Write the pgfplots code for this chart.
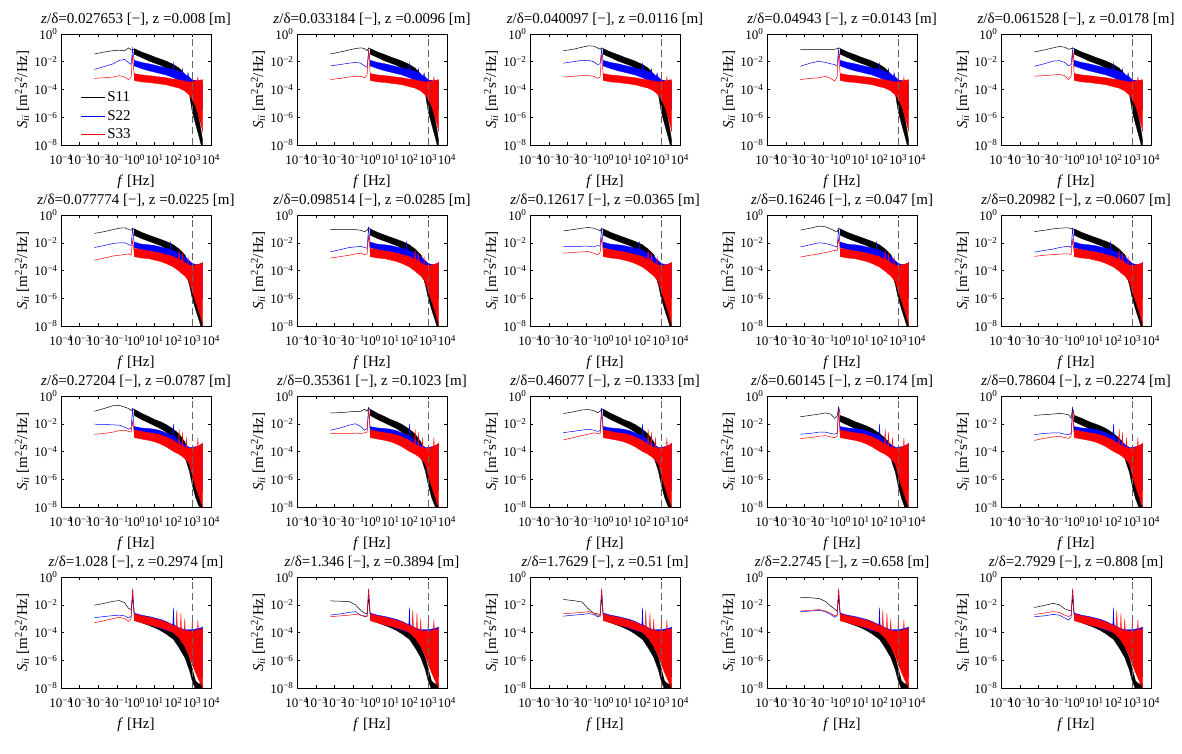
\documentclass[border=0pt]{standalone}
\usepackage{fontspec}
\setmainfont{Liberation Serif}
\usepackage{pgfplots}
\usepackage{pgfplotstable}
\pgfplotsset{compat=1.18}

\newcommand{\tl}[1]{10\textsuperscript{#1}}
\pgfplotsset{legend image code/.code={\draw[#1,line width=0.6pt] (0pt,0pt) -- (24pt,0pt);}}

% ---------- noise bands (upper envelope forward, lower envelope back) ----------
% Row 1
\pgfplotstableread[row sep=\\]{f S\\
0.8 8.9e-2\\ 2 5e-2\\ 5 3.2e-2\\ 10 2.2e-2\\ 20 1.58e-2\\ 40 1.12e-2\\ 100 6.3e-3\\ 200 3.5e-3\\ 400 1.26e-3\\ 700 4e-4\\ 1000 1e-4\\ 1500 1.26e-5\\ 2200 1e-6\\ 3000 1e-7\\ 3600 2e-8\\
3600 8e-9\\ 3000 1e-8\\ 2200 5e-8\\ 1500 3.2e-7\\ 1000 2.5e-6\\ 700 5e-5\\ 400 2e-4\\ 200 1e-3\\ 100 2e-3\\ 40 3.5e-3\\ 20 5.6e-3\\ 10 7.9e-3\\ 5 1.12e-2\\ 2 2e-2\\ 0.8 3.5e-2\\
}\bkA
\pgfplotstableread[row sep=\\]{f S\\
0.8 1.26e-2\\ 2 8.9e-3\\ 5 7.1e-3\\ 10 5.6e-3\\ 20 4.5e-3\\ 40 3.5e-3\\ 92 2.8e-3\\ 100 8e-3\\ 108 2.7e-3\\ 200 2e-3\\ 280 1.6e-3\\ 300 3.2e-3\\ 320 1.5e-3\\ 400 1.26e-3\\ 550 9e-4\\ 600 1.6e-3\\ 650 8.5e-4\\ 700 7.9e-4\\ 1000 5e-4\\ 1500 4.5e-4\\ 2200 4e-4\\ 3000 4e-4\\ 3600 3.5e-4\\
3600 4e-6\\ 3000 6.3e-6\\ 2200 1.26e-5\\ 1500 2.5e-5\\ 1000 5e-5\\ 700 7.9e-5\\ 400 1.58e-4\\ 200 4.5e-4\\ 100 7.1e-4\\ 40 1.12e-3\\ 20 1.41e-3\\ 10 1.78e-3\\ 5 2.2e-3\\ 2 3.2e-3\\ 0.8 5e-3\\
}\buA
\pgfplotstableread[row sep=\\]{f S\\
0.8 1.41e-3\\ 2 1.12e-3\\ 5 1e-3\\ 10 8.9e-4\\ 20 7.9e-4\\ 40 7.1e-4\\ 100 5.6e-4\\ 200 5e-4\\ 400 4e-4\\ 700 3.5e-4\\ 950 3.5e-4\\ 1000 6e-4\\ 1050 3.5e-4\\ 1500 4e-4\\ 1900 4e-4\\ 2000 8e-4\\ 2100 4.2e-4\\ 2200 4.5e-4\\ 3000 5e-4\\ 3600 5e-4\\
3600 1e-7\\ 3000 2.5e-7\\ 2200 1.26e-6\\ 1500 6.3e-6\\ 1000 2e-5\\ 700 4e-5\\ 400 7.9e-5\\ 200 1.26e-4\\ 100 1.58e-4\\ 40 2.2e-4\\ 20 2.5e-4\\ 10 2.8e-4\\ 5 3.2e-4\\ 2 3.5e-4\\ 0.8 4.5e-4\\
}\rdA
% Row 2
\pgfplotstableread[row sep=\\]{f S\\
0.8 1e-1\\ 2 5.6e-2\\ 5 3.5e-2\\ 10 2.5e-2\\ 20 1.78e-2\\ 40 1.26e-2\\ 100 7.1e-3\\ 200 3.5e-3\\ 400 1.41e-3\\ 700 2.5e-4\\ 1000 5e-5\\ 1500 6.3e-6\\ 2200 5e-7\\ 3000 5e-8\\ 3600 1.26e-8\\
3600 8e-9\\ 3000 8e-9\\ 2200 3.2e-8\\ 1500 1.58e-7\\ 1000 1e-6\\ 700 1e-5\\ 400 1e-4\\ 200 8.9e-4\\ 100 2e-3\\ 40 4e-3\\ 20 6.3e-3\\ 10 8.9e-3\\ 5 1.26e-2\\ 2 2e-2\\ 0.8 3.5e-2\\
}\bkB
\pgfplotstableread[row sep=\\]{f S\\
0.8 1.12e-2\\ 2 7.9e-3\\ 5 7.1e-3\\ 10 6.3e-3\\ 20 5e-3\\ 40 4e-3\\ 65 3.4e-3\\ 70 1.26e-2\\ 75 3.3e-3\\ 100 2.8e-3\\ 200 1.78e-3\\ 400 1e-3\\ 700 5e-4\\ 1000 3.2e-4\\ 1500 2.8e-4\\ 2200 2.8e-4\\ 3000 3.2e-4\\ 3600 3.5e-4\\
3600 1e-6\\ 3000 1.58e-6\\ 2200 3.2e-6\\ 1500 6.3e-6\\ 1000 1.58e-5\\ 700 4e-5\\ 400 1.26e-4\\ 200 3.5e-4\\ 100 7.1e-4\\ 40 1.26e-3\\ 20 1.78e-3\\ 10 2.2e-3\\ 5 2.5e-3\\ 2 3.2e-3\\ 0.8 4.5e-3\\
}\buB
\pgfplotstableread[row sep=\\]{f S\\
0.8 4e-3\\ 2 3.2e-3\\ 5 2.5e-3\\ 10 2.2e-3\\ 20 1.78e-3\\ 40 1.41e-3\\ 100 1e-3\\ 185 6.5e-4\\ 200 3.2e-3\\ 215 6.3e-4\\ 280 5e-4\\ 300 2e-3\\ 320 4.8e-4\\ 400 3.5e-4\\ 570 2.7e-4\\ 600 1e-3\\ 630 2.6e-4\\ 700 2.5e-4\\ 1000 2.2e-4\\ 1500 2.5e-4\\ 2200 2.8e-4\\ 3000 3.2e-4\\ 3600 4e-4\\
3600 1.26e-8\\ 3000 3.2e-8\\ 2200 1.26e-7\\ 1500 6.3e-7\\ 1000 3.2e-6\\ 700 1.58e-5\\ 400 4e-5\\ 200 8.9e-5\\ 100 1.78e-4\\ 40 3.2e-4\\ 20 4.5e-4\\ 10 5.6e-4\\ 5 7.1e-4\\ 2 7.9e-4\\ 0.8 1e-3\\
}\rdB
% Row 3
\pgfplotstableread[row sep=\\]{f S\\
0.8 1.12e-1\\ 2 5.6e-2\\ 5 3.2e-2\\ 10 2e-2\\ 20 1.41e-2\\ 40 8.9e-3\\ 100 4e-3\\ 200 1.78e-3\\ 400 5e-4\\ 700 6.3e-5\\ 1000 1e-5\\ 1500 1e-6\\ 2200 1e-7\\ 3000 2e-8\\ 3600 1e-8\\
3600 8e-9\\ 3000 8e-9\\ 2200 1.26e-8\\ 1500 5e-8\\ 1000 4e-7\\ 700 4e-6\\ 400 4e-5\\ 200 3.2e-4\\ 100 1e-3\\ 40 2.5e-3\\ 20 4.5e-3\\ 10 7.1e-3\\ 5 1.12e-2\\ 2 2e-2\\ 0.8 4e-2\\
}\bkC
\pgfplotstableread[row sep=\\]{f S\\
0.8 4e-2\\ 2 2.5e-2\\ 5 1.41e-2\\ 10 1e-2\\ 20 7.1e-3\\ 40 4.5e-3\\ 100 2e-3\\ 200 8.9e-4\\ 400 3.2e-4\\ 700 5e-5\\ 1000 7.9e-6\\ 1500 7.9e-7\\ 2200 7.9e-8\\ 3000 1.58e-8\\ 3600 1e-8\\
3600 8e-9\\ 3000 8e-9\\ 2200 1e-8\\ 1500 4e-8\\ 1000 3.2e-7\\ 700 3.2e-6\\ 400 3.2e-5\\ 200 1.41e-4\\ 100 4e-4\\ 40 1e-3\\ 20 1.78e-3\\ 10 2.8e-3\\ 5 4.5e-3\\ 2 7.9e-3\\ 0.8 1.41e-2\\
}\bkD
\pgfplotstableread[row sep=\\]{f S\\
0.8 6.3e-3\\ 2 5e-3\\ 5 4.5e-3\\ 10 4e-3\\ 20 3.2e-3\\ 40 2.2e-3\\ 92 1.3e-3\\ 100 1e-2\\ 108 1.25e-3\\ 200 6.3e-4\\ 400 3.2e-4\\ 700 2e-4\\ 1000 2e-4\\ 1500 2.2e-4\\ 2200 2.5e-4\\ 3000 3.2e-4\\ 3600 4e-4\\
3600 1.58e-7\\ 3000 2.5e-7\\ 2200 6.3e-7\\ 1500 1.58e-6\\ 1000 4e-6\\ 700 1.26e-5\\ 400 3.2e-5\\ 200 1e-4\\ 100 2.5e-4\\ 40 6.3e-4\\ 20 1e-3\\ 10 1.26e-3\\ 5 1.58e-3\\ 2 2e-3\\ 0.8 2.5e-3\\
}\buC
\pgfplotstableread[row sep=\\]{f S\\
0.8 3.5e-3\\ 2 2.8e-3\\ 5 2.2e-3\\ 10 2e-3\\ 20 1.58e-3\\ 40 1.12e-3\\ 100 6.3e-4\\ 185 3.4e-4\\ 200 4e-3\\ 215 3.3e-4\\ 280 2.6e-4\\ 300 2.5e-3\\ 320 2.5e-4\\ 400 2e-4\\ 470 1.9e-4\\ 500 1e-3\\ 530 1.85e-4\\ 700 1.78e-4\\ 1000 1.78e-4\\ 1500 2e-4\\ 1900 2.3e-4\\ 2000 1e-3\\ 2100 2.4e-4\\ 2200 2.5e-4\\ 3000 3.2e-4\\ 3600 4e-4\\
3600 1e-8\\ 3000 2e-8\\ 2200 6.3e-8\\ 1500 3.2e-7\\ 1000 2e-6\\ 700 1.26e-5\\ 400 3.2e-5\\ 200 6.3e-5\\ 100 1e-4\\ 40 2.2e-4\\ 20 3.5e-4\\ 10 5e-4\\ 5 6.3e-4\\ 2 7.9e-4\\ 0.8 1e-3\\
}\rdC
% Row 4
\pgfplotstableread[row sep=\\]{f S\\
0.8 2e-3\\ 2 1.41e-3\\ 5 1e-3\\ 10 7.9e-4\\ 20 5.6e-4\\ 40 3.5e-4\\ 100 1.58e-4\\ 200 5e-5\\ 400 1e-5\\ 700 1.58e-6\\ 1000 2.5e-7\\ 1500 3.2e-8\\ 2200 2e-8\\ 3000 2e-8\\ 3600 2e-8\\
3600 8e-9\\ 3000 8e-9\\ 2200 8e-9\\ 1500 8e-9\\ 1000 3.2e-8\\ 700 2e-7\\ 400 1.58e-6\\ 200 7.9e-6\\ 100 3.2e-5\\ 40 7.9e-5\\ 20 1.41e-4\\ 10 2.2e-4\\ 5 3.2e-4\\ 2 5e-4\\ 0.8 7.9e-4\\
}\bkE
\pgfplotstableread[row sep=\\]{f S\\
0.8 2.5e-3\\ 2 1.78e-3\\ 5 1.41e-3\\ 10 1.12e-3\\ 20 8.9e-4\\ 40 6.3e-4\\ 92 3.6e-4\\ 100 6.3e-3\\ 108 3.5e-4\\ 200 2.2e-4\\ 400 1.58e-4\\ 700 1.58e-4\\ 1000 1.58e-4\\ 1500 1.78e-4\\ 2200 2e-4\\ 3000 2.2e-4\\ 3600 2.5e-4\\
3600 6.3e-8\\ 3000 1e-7\\ 2200 2.5e-7\\ 1500 6.3e-7\\ 1000 1.58e-6\\ 700 4e-6\\ 400 1.26e-5\\ 200 4e-5\\ 100 1e-4\\ 40 1.41e-4\\ 20 2e-4\\ 10 2.8e-4\\ 5 4e-4\\ 2 5.6e-4\\ 0.8 7.9e-4\\
}\buE
\pgfplotstableread[row sep=\\]{f S\\
0.8 2.2e-3\\ 2 1.58e-3\\ 5 1.26e-3\\ 10 1e-3\\ 20 7.9e-4\\ 40 5.6e-4\\ 100 3.2e-4\\ 140 2.6e-4\\ 150 4e-3\\ 160 2.5e-4\\ 200 2e-4\\ 235 1.7e-4\\ 250 2.5e-3\\ 265 1.65e-4\\ 380 1.45e-4\\ 400 1e-3\\ 420 1.42e-4\\ 700 1.26e-4\\ 950 1.26e-4\\ 1000 1e-3\\ 1050 1.26e-4\\ 1500 1.41e-4\\ 1900 1.5e-4\\ 2000 8e-4\\ 2100 1.55e-4\\ 2200 1.58e-4\\ 3000 1.78e-4\\ 3600 2e-4\\
3600 1e-8\\ 3000 1.58e-8\\ 2200 4e-8\\ 1500 1.26e-7\\ 1000 5e-7\\ 700 2e-6\\ 400 1e-5\\ 200 4e-5\\ 100 1e-4\\ 40 1.58e-4\\ 20 2.2e-4\\ 10 2.8e-4\\ 5 3.5e-4\\ 2 5e-4\\ 0.8 7.1e-4\\
}\rdE

\def\bandsA{\def\nameBk{bkA}\def\nameBu{buA}\def\nameRd{rdA}}
\def\bandsB{\def\nameBk{bkB}\def\nameBu{buB}\def\nameRd{rdB}}
\def\bandsC{\def\nameBk{bkC}\def\nameBu{buC}\def\nameRd{rdC}}
\def\bandsD{\def\nameBk{bkD}\def\nameBu{buC}\def\nameRd{rdC}}
\def\bandsE{\def\nameBk{bkE}\def\nameBu{buE}\def\nameRd{rdE}}

\newcommand{\bandplot}[2]{\expandafter\bandplotX\csname #2\endcsname{#1}}
\newcommand{\bandplotX}[2]{\addplot[#2] table {#1};}

% #1 x, #2 y, #3 title, #4 band set, #5 low-frequency rows (f S11 S22 S33), #6 unused, #7 extra axis options, #8 extra content
\newcommand{\panel}[8]{%
  \csname bands#4\endcsname
  \pgfplotstableread[row sep=\\]{f b u r\\ #5}\lowtbl
  \begin{axis}[xmode=log, ymode=log, xmin=1e-4, xmax=1e4, ymin=1e-8, ymax=1,
    scale only axis, width=150pt, height=111pt, anchor=south west, at={(#1pt,#2pt)},
    xtick={1e-4,1e-3,1e-2,1e-1,1,1e1,1e2,1e3,1e4},
    xticklabels={\tl{−4},\tl{−3},\tl{−2},\tl{−1},\tl{0},\tl{1},\tl{2},\tl{3},\tl{4}},
    ytick={1e-8,1e-6,1e-4,1e-2,1},
    yticklabels={\tl{−8},\tl{−6},\tl{−4},\tl{−2},\tl{0}},
    xminorticks=false, yminorticks=false,
    tick align=inside, major tick length=3pt,
    tick style={black, line width=0.5pt},
    axis line style={line width=0.8pt},
    tick label style={font=\fontsize{13}{13}\selectfont},
    xticklabel style={yshift=-6pt},
    title style={at={(axis description cs:0.5,1)}, anchor=center, yshift=9pt, font=\fontsize{15}{16}\selectfont},
    title={#3},
    xlabel={\textit{f} [Hz]},
    ylabel={\textit{S}\textsubscript{\textit{ii}} [m\textsuperscript{2}s\textsuperscript{2}/Hz]},
    label style={font=\fontsize{15}{15}\selectfont},
    xlabel style={at={(axis description cs:0.5,-0.33)}, anchor=center},
    ylabel style={at={(axis description cs:-0.26,0.5)}, anchor=center},
    clip=true, #7]
    \addplot[black, line width=0.5pt, forget plot] table[x=f,y=b] {\lowtbl};
    \bandplot{black, fill=black, line width=0.3pt, forget plot}{\nameBk}
    \addplot[blue, line width=0.5pt, forget plot] table[x=f,y=u] {\lowtbl};
    \bandplot{blue, fill=blue, line width=0.3pt, forget plot}{\nameBu}
    \addplot[red, line width=0.5pt, forget plot] table[x=f,y=r] {\lowtbl};
    \bandplot{red, fill=red, line width=0.3pt, forget plot}{\nameRd}
    \addplot[black!60, line width=0.8pt, dash pattern=on 7pt off 4pt, forget plot] coordinates {(970,1e-8) (970,1)};
    #8
  \end{axis}}

\begin{document}
\begin{tikzpicture}
\useasboundingbox (0pt,0pt) rectangle (1182pt,753pt);

% ---------------- Row 1 ----------------
\panel{61}{608}{\textit{z}/δ=0.027653 [−], z =0.008 [m]}{A}{%
0.006 3.6e-2 2.8e-3 6.3e-4\\ 0.02 5e-2 4.5e-3 7.1e-4\\ 0.06 6.3e-2 7.1e-3 7.9e-4\\ 0.13 6.8e-2 1.26e-2 1e-3\\ 0.25 6.3e-2 1.45e-2 7.9e-4\\ 0.4 1e-1 8.9e-3 5.2e-4\\ 0.55 7.1e-2 6.3e-3 7.9e-4\\ 0.66 7.9e-2 8.9e-2 3.2e-2\\ 0.8 7.1e-2 1.26e-2 1e-3\\}{}%
{legend style={at={(axis description cs:0.13,0.5)}, anchor=north west, draw=none, fill=none, font=\fontsize{15}{15}\selectfont, inner sep=0pt, row sep=3pt}, legend cell align=left}%
{\addlegendimage{black}\addlegendentry{S11}\addlegendimage{blue}\addlegendentry{S22}\addlegendimage{red}\addlegendentry{S33}}

\panel{297}{608}{\textit{z}/δ=0.033184 [−], z =0.0096 [m]}{A}{%
0.006 3.6e-2 5e-3 5.2e-4\\ 0.02 5e-2 6.3e-3 6.3e-4\\ 0.06 7.1e-2 7.9e-3 7.9e-4\\ 0.13 8.9e-2 8.9e-3 8.9e-4\\ 0.25 1e-1 7.9e-3 8.9e-4\\ 0.4 8.9e-2 5e-3 7.1e-4\\ 0.55 6.3e-2 4e-3 1.12e-3\\ 0.66 1e-1 6.3e-2 7.1e-2\\ 0.8 7.9e-2 1e-2 1.26e-3\\}{}{}{}

\panel{530}{608}{\textit{z}/δ=0.040097 [−], z =0.0116 [m]}{A}{%
0.006 6.3e-2 7.9e-3 7.9e-4\\ 0.02 7.9e-2 1e-2 8.9e-4\\ 0.06 1.12e-1 1.26e-2 1e-3\\ 0.13 1.41e-1 1.26e-2 1e-3\\ 0.25 1.32e-1 1e-2 8.9e-4\\ 0.4 1e-1 6.3e-3 6.3e-4\\ 0.55 7.9e-2 7.1e-3 7.9e-4\\ 0.66 1e-1 7.9e-2 4e-2\\ 0.8 7.9e-2 1.12e-2 1.12e-3\\}{}{}{}

\panel{767}{608}{\textit{z}/δ=0.04943 [−], z =0.0143 [m]}{A}{%
0.006 7.4e-2 4.7e-3 5.2e-4\\ 0.02 7.4e-2 7.9e-3 6.3e-4\\ 0.06 7.6e-2 1.1e-2 7.1e-4\\ 0.13 7.4e-2 8.9e-3 8.9e-4\\ 0.25 7.9e-2 7.1e-3 6.3e-4\\ 0.4 7.9e-2 6.3e-3 4e-4\\ 0.55 8.9e-2 5e-3 7.9e-4\\ 0.66 1e-1 7.9e-2 5e-2\\ 0.8 8.9e-2 1e-2 1e-3\\}{}{}{}

\panel{1001}{608}{\textit{z}/δ=0.061528 [−], z =0.0178 [m]}{A}{%
0.006 5e-2 4.7e-3 9.1e-4\\ 0.02 7.1e-2 7.1e-3 1e-3\\ 0.06 1e-1 1.12e-2 1.12e-3\\ 0.13 1.26e-1 1.2e-2 1.2e-3\\ 0.25 1.12e-1 8.9e-3 1e-3\\ 0.4 7.9e-2 5.2e-3 5.2e-4\\ 0.55 8.9e-2 6.3e-3 8.9e-4\\ 0.66 1e-1 8.3e-2 5.6e-2\\ 0.8 8.9e-2 1e-2 1.26e-3\\}{}{}{}

% ---------------- Row 2 ----------------
\panel{61}{427}{\textit{z}/δ=0.077774 [−], z =0.0225 [m]}{B}{%
0.006 4.7e-2 4.5e-3 5.4e-4\\ 0.02 6.3e-2 6.3e-3 7.9e-4\\ 0.06 8.9e-2 8.9e-3 1.12e-3\\ 0.13 1.12e-1 1e-2 1.26e-3\\ 0.25 1.2e-1 1e-2 1.41e-3\\ 0.4 8.9e-2 7.4e-3 1.58e-3\\ 0.55 8.1e-2 6.3e-3 1.26e-3\\ 0.66 1.12e-1 1.07e-1 1.58e-2\\ 0.8 8.9e-2 1e-2 2e-3\\}{}{}{}

\panel{297}{427}{\textit{z}/δ=0.098514 [−], z =0.0285 [m]}{B}{%
0.006 8.9e-2 2.2e-3 7.9e-4\\ 0.02 8.9e-2 3.2e-3 1e-3\\ 0.06 8.9e-2 4.5e-3 1.26e-3\\ 0.13 8.9e-2 5e-3 1.58e-3\\ 0.25 7.9e-2 5.6e-3 1.78e-3\\ 0.4 6.3e-2 4.5e-3 1.41e-3\\ 0.55 7.9e-2 4e-3 1.58e-3\\ 0.66 1.26e-1 1.41e-1 3.5e-2\\ 0.8 1e-1 6.3e-3 2.5e-3\\}{}{}{}

\panel{530}{427}{\textit{z}/δ=0.12617 [−], z =0.0365 [m]}{B}{%
0.006 7.1e-2 5.4e-3 1.78e-3\\ 0.02 8.9e-2 5.4e-3 2e-3\\ 0.06 1.12e-1 5.6e-3 2.2e-3\\ 0.13 1.26e-1 5.6e-3 2.3e-3\\ 0.25 1.12e-1 5e-3 1.78e-3\\ 0.4 8.9e-2 6.3e-3 1.35e-3\\ 0.55 7.1e-2 5.6e-3 2e-3\\ 0.66 1.12e-1 1.12e-1 2.1e-2\\ 0.8 8.9e-2 7.9e-3 2.5e-3\\}{}{}{}

\panel{767}{427}{\textit{z}/δ=0.16246 [−], z =0.047 [m]}{B}{%
0.006 8.1e-2 5e-3 9.3e-4\\ 0.02 1.12e-1 7.1e-3 1.26e-3\\ 0.06 1.58e-1 1e-2 1.58e-3\\ 0.13 1.41e-1 8.9e-3 2e-3\\ 0.25 1e-1 7.1e-3 2.4e-3\\ 0.4 7.1e-2 5.6e-3 2.8e-3\\ 0.55 6.3e-2 5e-3 2.5e-3\\ 0.66 1.12e-1 1.07e-1 2e-2\\ 0.8 8.9e-2 6.3e-3 3.2e-3\\}{}{}{}

\panel{1001}{427}{\textit{z}/δ=0.20982 [−], z =0.0607 [m]}{B}{%
0.006 6.3e-2 2.1e-3 1.05e-3\\ 0.02 7.9e-2 2.8e-3 1.26e-3\\ 0.06 1e-1 3.5e-3 1.41e-3\\ 0.13 1.12e-1 4.5e-3 1.5e-3\\ 0.25 1.17e-1 5.2e-3 1.58e-3\\ 0.4 1.2e-1 5.6e-3 1.58e-3\\ 0.55 1e-1 4.5e-3 1.41e-3\\ 0.66 1.12e-1 1.07e-1 1.58e-2\\ 0.8 7.9e-2 5e-3 2e-3\\}{}{}{}

% ---------------- Row 3 ----------------
\panel{61}{246}{\textit{z}/δ=0.27204 [−], z =0.0787 [m]}{C}{%
0.006 7.9e-2 9.3e-3 1.74e-3\\ 0.02 1.26e-1 8.9e-3 2e-3\\ 0.06 2e-1 8.3e-3 2.5e-3\\ 0.13 2.1e-1 7.9e-3 3.2e-3\\ 0.25 1.58e-1 5.6e-3 3.4e-3\\ 0.4 1.26e-1 4e-3 2.8e-3\\ 0.55 8.9e-2 5e-3 2.5e-3\\ 0.66 1.26e-1 1.26e-1 1.41e-2\\ 0.8 1e-1 5e-3 2.5e-3\\}{}{}{}

\panel{297}{246}{\textit{z}/δ=0.35361 [−], z =0.1023 [m]}{C}{%
0.006 6e-2 3.4e-3 2e-3\\ 0.02 6.3e-2 5e-3 2e-3\\ 0.06 7.1e-2 7.9e-3 2e-3\\ 0.13 7.9e-2 1e-2 2.1e-3\\ 0.25 7.9e-2 6.3e-3 2e-3\\ 0.4 1.12e-1 3.4e-3 2.2e-3\\ 0.55 7.9e-2 4.5e-3 2.5e-3\\ 0.66 1.41e-1 1.58e-1 1.12e-1\\ 0.8 1e-1 5e-3 2.8e-3\\}{}{}{}

\panel{530}{246}{\textit{z}/δ=0.46077 [−], z =0.1333 [m]}{C}{%
0.006 5.5e-2 2.3e-3 6.8e-4\\ 0.02 7.1e-2 2.8e-3 1e-3\\ 0.06 1e-1 3.5e-3 1.41e-3\\ 0.13 1.05e-1 4e-3 1.78e-3\\ 0.25 8.9e-2 3.5e-3 2.2e-3\\ 0.4 6.3e-2 2.8e-3 2e-3\\ 0.55 7.9e-2 3.2e-3 1.78e-3\\ 0.66 1.26e-1 1.41e-1 6.3e-2\\ 0.8 8.9e-2 4e-3 2.5e-3\\}{}{}{}

\panel{767}{246}{\textit{z}/δ=0.60145 [−], z =0.174 [m]}{D}{%
0.006 3.2e-2 1.78e-3 8.5e-4\\ 0.02 4e-2 2e-3 1e-3\\ 0.06 5e-2 2.5e-3 1.26e-3\\ 0.13 6e-2 2.5e-3 1.41e-3\\ 0.25 5e-2 2e-3 1.12e-3\\ 0.4 2.5e-2 1.78e-3 1e-3\\ 0.55 3.5e-2 2e-3 1.26e-3\\ 0.66 1.58e-1 1.58e-1 1e-1\\ 0.8 5.6e-2 2.5e-3 1.58e-3\\}{}{}{}

\panel{1001}{246}{\textit{z}/δ=0.78604 [−], z =0.2274 [m]}{D}{%
0.006 4e-2 1.66e-3 6.3e-4\\ 0.02 4.5e-2 2e-3 8.9e-4\\ 0.06 5e-2 2.2e-3 1.12e-3\\ 0.13 5.6e-2 2.2e-3 1.26e-3\\ 0.25 5e-2 1.78e-3 1e-3\\ 0.4 4.5e-2 1.66e-3 8.9e-4\\ 0.55 2.5e-2 2e-3 1.26e-3\\ 0.66 1.41e-1 1.41e-1 7.9e-2\\ 0.8 4e-2 2.5e-3 1.58e-3\\}{}{}{}

% ---------------- Row 4 ----------------
\panel{61}{65}{\textit{z}/δ=1.028 [−], z =0.2974 [m]}{E}{%
0.006 9.3e-3 1.17e-3 5e-4\\ 0.02 1.26e-2 1.41e-3 7.1e-4\\ 0.06 1.78e-2 1.66e-3 1e-3\\ 0.13 2e-2 1.78e-3 1.26e-3\\ 0.25 1.41e-2 1.58e-3 1e-3\\ 0.4 5.4e-3 1.12e-3 6.3e-4\\ 0.55 4.5e-3 1.41e-3 1e-3\\ 0.66 3.2e-2 1.45e-1 1.26e-1\\ 0.8 2.5e-3 2e-3 1.58e-3\\}{}{}{}

\panel{297}{65}{\textit{z}/δ=1.346 [−], z =0.3894 [m]}{E}{%
0.006 1.9e-2 1.8e-3 1.38e-3\\ 0.02 1.8e-2 2.2e-3 1.58e-3\\ 0.06 1.7e-2 2.8e-3 1.78e-3\\ 0.13 1e-2 3.2e-3 2e-3\\ 0.25 4e-3 1.78e-3 1.78e-3\\ 0.4 2.5e-3 1.41e-3 1.58e-3\\ 0.55 2.2e-3 1.58e-3 1.41e-3\\ 0.66 3.2e-2 1.45e-1 1.26e-1\\ 0.8 2e-3 2e-3 1.78e-3\\}{}{}{}

\panel{530}{65}{\textit{z}/δ=1.7629 [−], z =0.51 [m]}{E}{%
0.006 2.4e-2 1.5e-3 2.3e-3\\ 0.02 2e-2 1.78e-3 2.5e-3\\ 0.06 1.58e-2 2e-3 2.8e-3\\ 0.13 5e-3 2.3e-3 3.2e-3\\ 0.25 2.5e-3 2e-3 2.5e-3\\ 0.4 2.2e-3 1.41e-3 1.78e-3\\ 0.55 2e-3 1.58e-3 1.41e-3\\ 0.66 3.2e-2 1.45e-1 1.26e-1\\ 0.8 1.78e-3 1.78e-3 1.78e-3\\}{}{}{}

\panel{767}{65}{\textit{z}/δ=2.2745 [−], z =0.658 [m]}{E}{%
0.006 3.3e-2 3.2e-3 3.5e-3\\ 0.02 3.2e-2 3.5e-3 4e-3\\ 0.06 2.8e-2 4e-3 4.5e-3\\ 0.13 1.78e-2 3.2e-3 3.5e-3\\ 0.25 7.9e-3 2e-3 2.5e-3\\ 0.4 5e-3 1.26e-3 1.58e-3\\ 0.55 3.5e-3 1.58e-3 1.78e-3\\ 0.66 3.2e-2 1.45e-1 1.26e-1\\ 0.8 2e-3 1.78e-3 1.78e-3\\}{}{}{}

\panel{1001}{65}{\textit{z}/δ=2.7929 [−], z =0.808 [m]}{E}{%
0.006 6.3e-3 1.38e-3 2e-3\\ 0.02 8.9e-3 1.58e-3 2.5e-3\\ 0.06 1.26e-2 2e-3 3.2e-3\\ 0.13 1e-2 1.78e-3 2.8e-3\\ 0.25 5e-3 1.12e-3 1.78e-3\\ 0.4 4e-3 7.9e-4 1.41e-3\\ 0.55 3.5e-3 1.26e-3 1.78e-3\\ 0.66 3.2e-2 1.45e-1 1.26e-1\\ 0.8 1.78e-3 1.78e-3 1.78e-3\\}{}{}{}

\end{tikzpicture}
\end{document}
